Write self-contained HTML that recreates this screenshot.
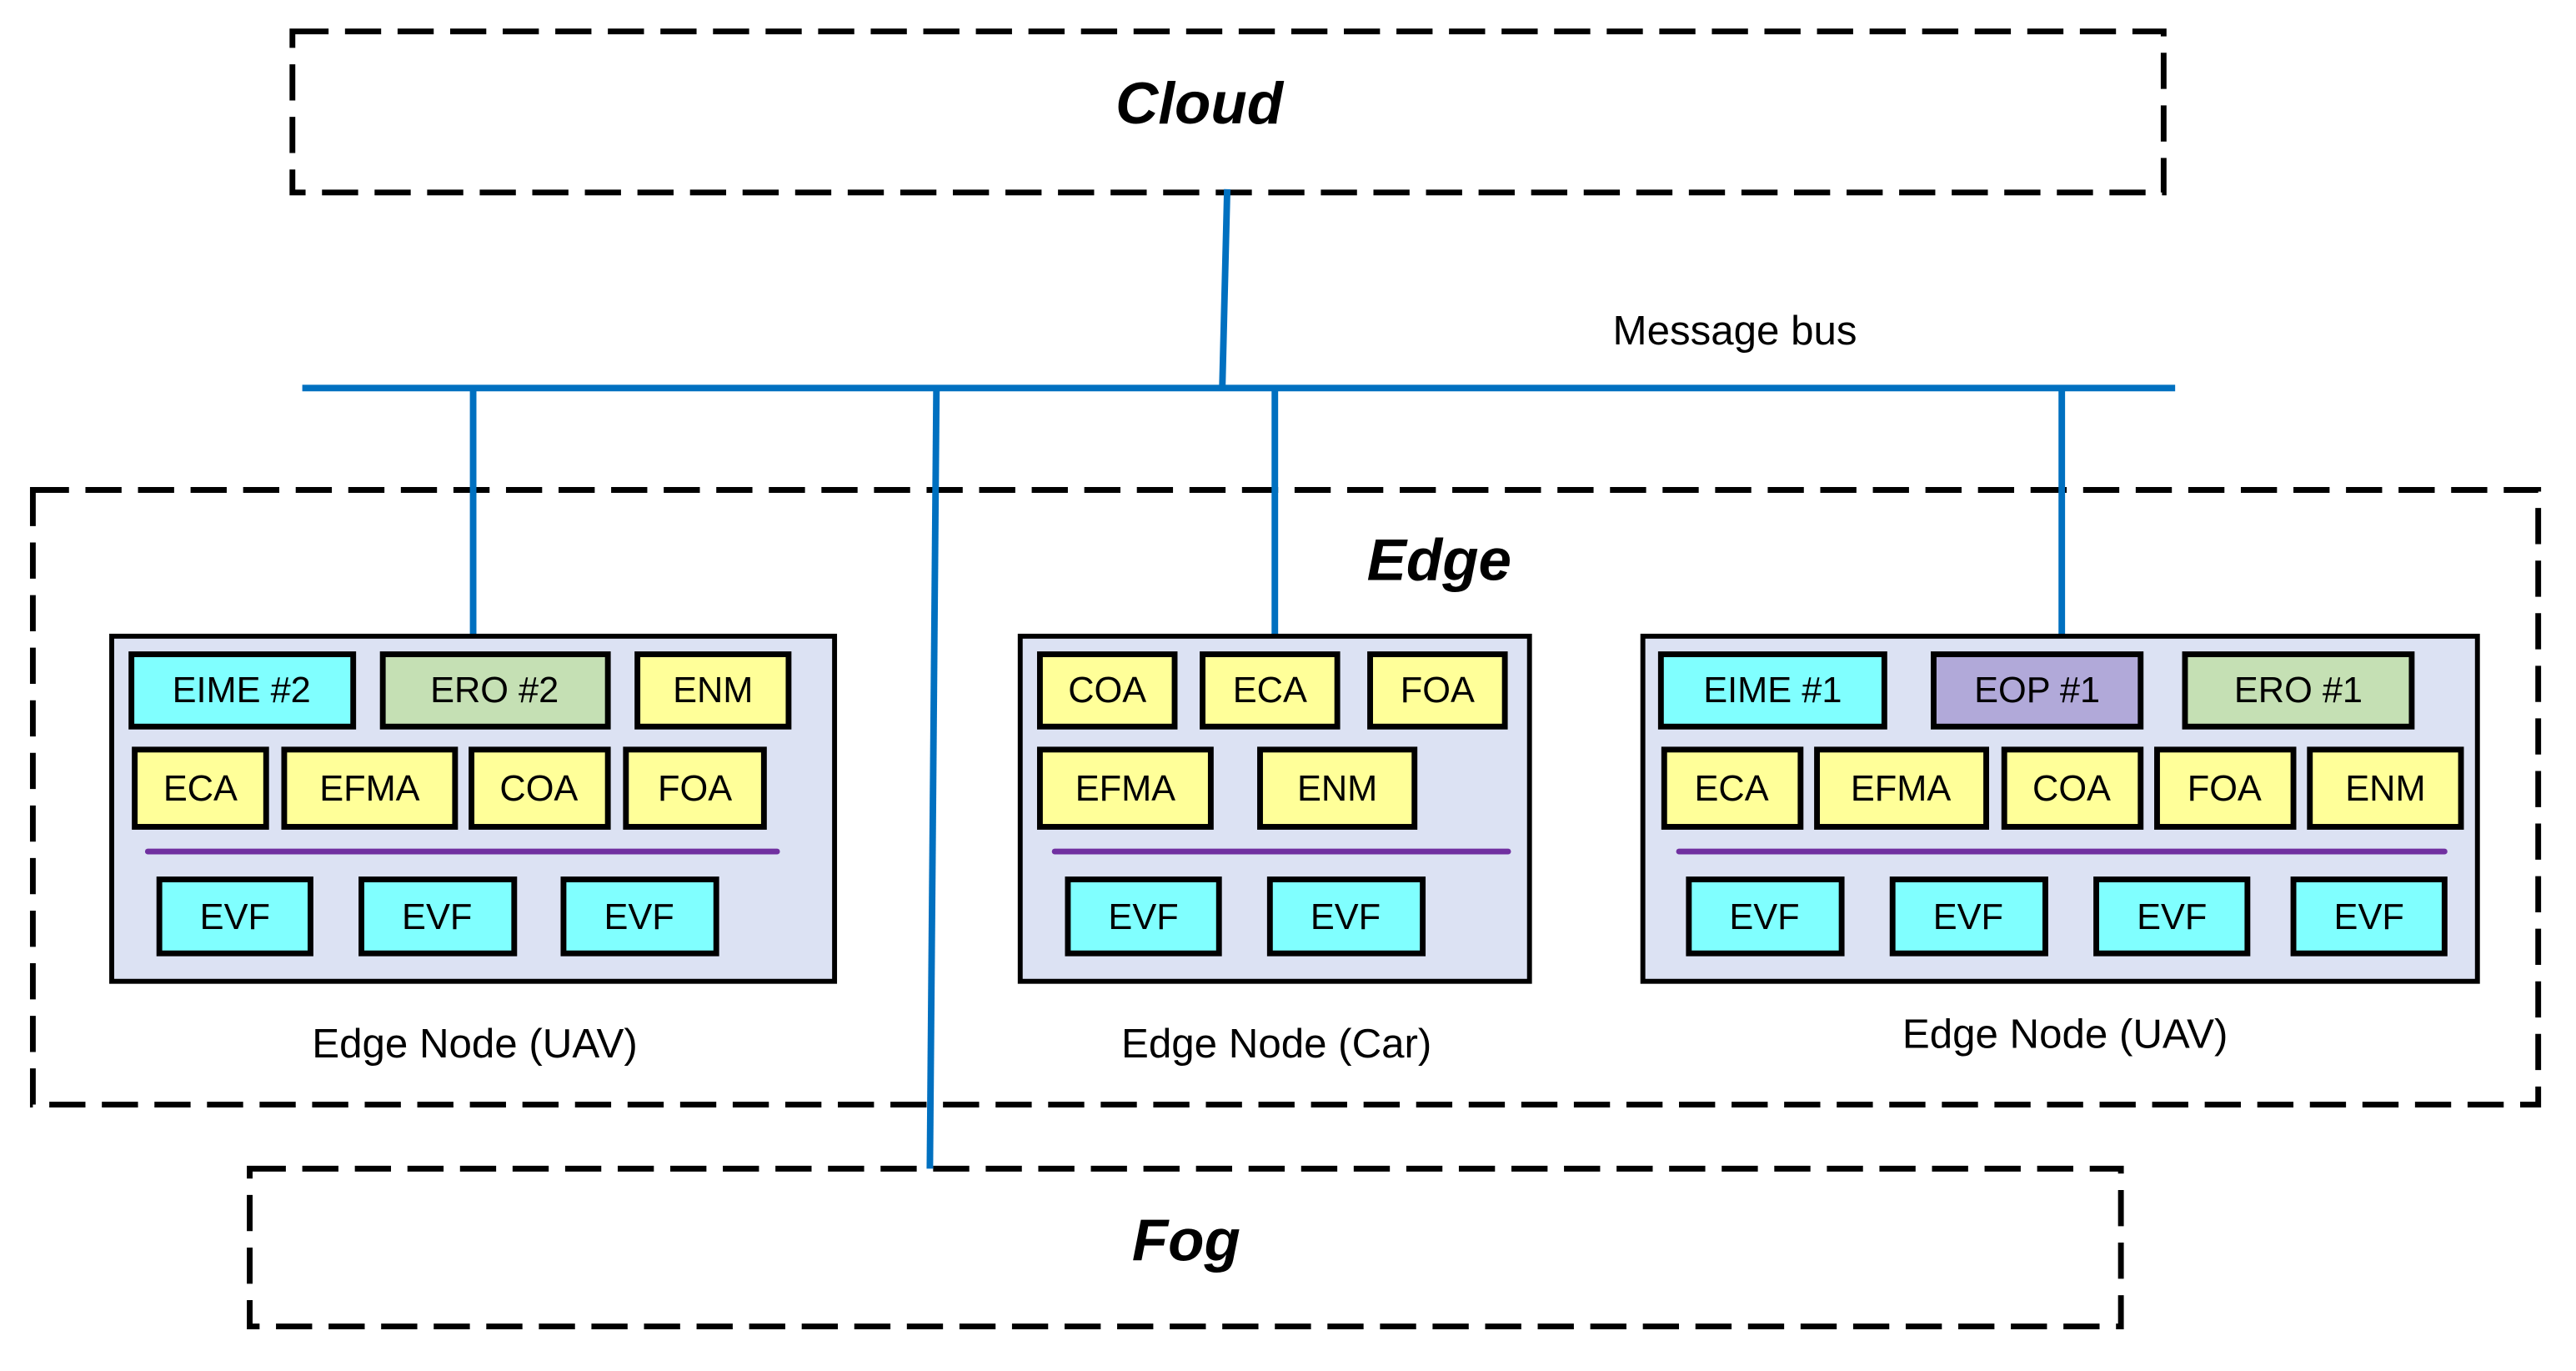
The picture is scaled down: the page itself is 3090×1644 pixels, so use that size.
<!DOCTYPE html>
<html><head><meta charset="utf-8"><style>
html,body{margin:0;padding:0;background:#fff;}
svg{display:block;}
text{font-family:"Liberation Sans",sans-serif;}
.b{font-size:22px;text-anchor:middle;dominant-baseline:central;}
.bx{stroke:#000;stroke-width:3.5;}
.c{fill:#80ffff}.g{fill:#c5e0b4}.y{fill:#ffff99}.p{fill:#b1a9d9}
.bl{stroke:#0070c0;stroke-width:4;fill:none}
.pu{stroke:#7030a0;stroke-width:3.5;stroke-linecap:round}
.node{fill:#dce2f3;stroke:#000;stroke-width:3}
.dash{fill:none;stroke:#000;stroke-width:3.5;stroke-dasharray:22 10}
.t{font-size:36px;font-weight:bold;font-style:italic;text-anchor:middle;dominant-baseline:central}
.l{font-size:25px;text-anchor:middle;dominant-baseline:central}
</style></head><body>
<svg width="3090" height="1644" viewBox="0 0 1568 834" xmlns="http://www.w3.org/2000/svg">
<rect x="178" y="19" width="1139" height="98" class="dash"/>
<text x="730" y="63" class="t">Cloud</text>
<rect x="20" y="298" width="1525" height="374" fill="#f2f2f2" class="dash"/>
<text x="876" y="341" class="t">Edge</text>
<rect x="152" y="711" width="1139" height="96" class="dash"/>
<text x="722" y="755" class="t">Fog</text>

<line x1="184" y1="236" x2="1324" y2="236" class="bl"/>
<line x1="747" y1="115" x2="744" y2="236" class="bl"/>
<line x1="288" y1="236" x2="288" y2="387" class="bl"/>
<line x1="776" y1="236" x2="776" y2="387" class="bl"/>
<line x1="1255" y1="236" x2="1255" y2="387" class="bl"/>
<line x1="570" y1="236" x2="566" y2="711" class="bl"/>
<text x="1056" y="201" class="l">Message bus</text>

<!-- Node 1 -->
<rect x="68" y="387" width="440" height="210" class="node"/>
<rect x="80" y="398" width="135" height="44" class="bx c"/><text x="147" y="420" class="b">EIME #2</text>
<rect x="233" y="398" width="137" height="44" class="bx g"/><text x="301" y="420" class="b">ERO #2</text>
<rect x="388" y="398" width="92" height="44" class="bx y"/><text x="434" y="420" class="b">ENM</text>
<rect x="82" y="456" width="80" height="47" class="bx y"/><text x="122" y="480" class="b">ECA</text>
<rect x="173" y="456" width="104" height="47" class="bx y"/><text x="225" y="480" class="b">EFMA</text>
<rect x="287" y="456" width="83" height="47" class="bx y"/><text x="328" y="480" class="b">COA</text>
<rect x="381" y="456" width="84" height="47" class="bx y"/><text x="423" y="480" class="b">FOA</text>
<line x1="90" y1="518" x2="473" y2="518" class="pu"/>
<rect x="97" y="535" width="92" height="45" class="bx c"/><text x="143" y="558" class="b">EVF</text>
<rect x="220" y="535" width="93" height="45" class="bx c"/><text x="266" y="558" class="b">EVF</text>
<rect x="343" y="535" width="93" height="45" class="bx c"/><text x="389" y="558" class="b">EVF</text>
<text x="289" y="635" class="l">Edge Node (UAV)</text>

<!-- Node 2 -->
<rect x="621" y="387" width="310" height="210" class="node"/>
<rect x="633" y="398" width="82" height="44" class="bx y"/><text x="674" y="420" class="b">COA</text>
<rect x="732" y="398" width="82" height="44" class="bx y"/><text x="773" y="420" class="b">ECA</text>
<rect x="834" y="398" width="82" height="44" class="bx y"/><text x="875" y="420" class="b">FOA</text>
<rect x="633" y="456" width="104" height="47" class="bx y"/><text x="685" y="480" class="b">EFMA</text>
<rect x="767" y="456" width="94" height="47" class="bx y"/><text x="814" y="480" class="b">ENM</text>
<line x1="642" y1="518" x2="918" y2="518" class="pu"/>
<rect x="650" y="535" width="92" height="45" class="bx c"/><text x="696" y="558" class="b">EVF</text>
<rect x="773" y="535" width="93" height="45" class="bx c"/><text x="819" y="558" class="b">EVF</text>
<text x="777" y="635" class="l">Edge Node (Car)</text>

<!-- Node 3 -->
<rect x="1000" y="387" width="508" height="210" class="node"/>
<rect x="1011" y="398" width="136" height="44" class="bx c"/><text x="1079" y="420" class="b">EIME #1</text>
<rect x="1177" y="398" width="126" height="44" class="bx p"/><text x="1240" y="420" class="b">EOP #1</text>
<rect x="1330" y="398" width="138" height="44" class="bx g"/><text x="1399" y="420" class="b">ERO #1</text>
<rect x="1013" y="456" width="83" height="47" class="bx y"/><text x="1054" y="480" class="b">ECA</text>
<rect x="1106" y="456" width="103" height="47" class="bx y"/><text x="1157" y="480" class="b">EFMA</text>
<rect x="1220" y="456" width="83" height="47" class="bx y"/><text x="1261" y="480" class="b">COA</text>
<rect x="1313" y="456" width="83" height="47" class="bx y"/><text x="1354" y="480" class="b">FOA</text>
<rect x="1406" y="456" width="92" height="47" class="bx y"/><text x="1452" y="480" class="b">ENM</text>
<line x1="1022" y1="518" x2="1488" y2="518" class="pu"/>
<rect x="1028" y="535" width="93" height="45" class="bx c"/><text x="1074" y="558" class="b">EVF</text>
<rect x="1152" y="535" width="93" height="45" class="bx c"/><text x="1198" y="558" class="b">EVF</text>
<rect x="1276" y="535" width="92" height="45" class="bx c"/><text x="1322" y="558" class="b">EVF</text>
<rect x="1396" y="535" width="92" height="45" class="bx c"/><text x="1442" y="558" class="b">EVF</text>
<text x="1257" y="629" class="l">Edge Node (UAV)</text>
</svg>
</body></html>
